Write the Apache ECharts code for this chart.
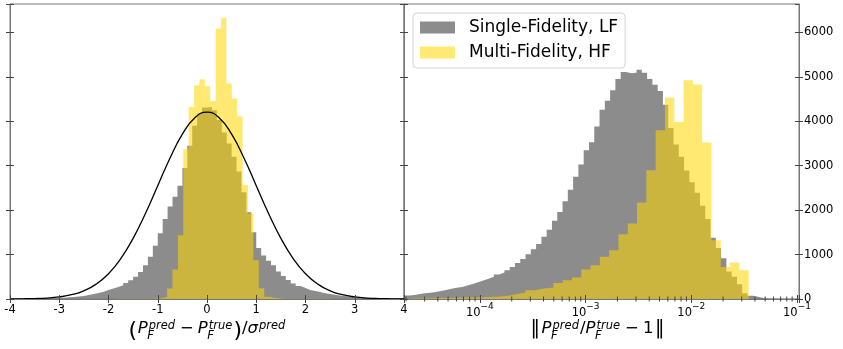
<!DOCTYPE html>
<html>
<head>
<meta charset="utf-8">
<script src="https://cdn.jsdelivr.net/npm/echarts@6/dist/echarts.min.js"></script>
<style>
  html, body { margin: 0; padding: 0; background: #fff; }
  #chart { width: 843px; height: 349px; }
</style>
</head>
<body>
<div id="chart"></div>
<script>
// ---- left panel: (P_pred - P_true) / sigma, histogram counts ----
const leftGrayStart = -4, leftGrayWidth = 0.1;
const leftGray = [
  5, 6, 7, 8, 10, 13, 16, 18, 21, 25,
  30, 37, 45, 55, 70, 88, 110, 135, 165, 200,
  235, 270, 310, 360, 420, 500, 610, 760, 950, 1200,
  1480, 1800, 2080, 2300, 2550, 2950, 3450, 3900, 4180, 4310,
  4320, 4250, 4030, 3750, 3500, 3200, 2870, 2400, 1950, 1500,
  1150, 980, 860, 760, 620, 520, 430, 350, 290, 245,
  205, 180, 155, 130, 115, 95, 80, 65, 52, 42,
  34, 28, 24, 20, 18, 16, 14, 12, 10, 9
];
const leftYellowStart = -1.905, leftYellowWidth = 0.1095;
const leftYellow = [
  3, 3, 4, 4, 5, 6, 8, 12,
  15, 45, 234, 662, 1435, 3371, 4324, 4813, 4948, 4790, 4459, 6090, 6329,
  4851, 4514, 4115, 2560, 1923, 872, 240, 50, 20,
  10, 8, 6, 5, 5, 4, 4, 3, 3, 3, 2, 2, 2
];
// unit normal curve drawn over the left panel
const normX = [-4, -3.75, -3.5, -3.25, -3, -2.75, -2.5, -2.25, -2, -1.75, -1.5, -1.25, -1, -0.75, -0.5, -0.25, 0,
  0.25, 0.5, 0.75, 1, 1.25, 1.5, 1.75, 2, 2.25, 2.5, 2.75, 3, 3.25, 3.5, 3.75, 4];
const normY = [1, 4, 9, 21, 47, 96, 185, 335, 569, 910, 1365, 1925, 2550, 3174, 3711, 4075, 4205,
  4075, 3711, 3174, 2550, 1925, 1365, 910, 569, 335, 185, 96, 47, 21, 9, 4, 1];

// ---- right panel: |P_pred/P_true - 1|, bins in log10 (decades) ----
const rightGrayStart = -4.718, rightGrayWidth = 0.05;
const rightGray = [
  80, 92, 115, 128, 141, 155, 178, 205, 232, 252,
  272, 305, 338, 378, 415, 458, 500, 550, 595, 645,
  720, 810, 900, 1005, 1120, 1240, 1400, 1560, 1760, 1960,
  2200, 2460, 2750, 3030, 3350, 3530, 3880, 4260, 4460, 4700,
  4950, 5110, 5080, 5090, 5160, 5090, 4950, 4820, 4680, 4370,
  3850, 3480, 3200, 2890, 2630, 2390, 2100, 1800, 1380, 1150,
  920, 620, 500, 330, 130, 75, 50, 22, 14, 9,
  7, 6, 5, 4, 3
];
const rightYellowStart = -4.713, rightYellowWidth = 0.088;
const rightYellow = [
  12, 15, 18, 22, 25, 28, 32, 36, 40, 50,
  68, 106, 144, 196, 234, 257, 360, 421, 482, 662,
  759, 950, 1097, 1457, 1698, 2171, 2899, 3800, 4536, 3986,
  4926, 4829, 3522, 1322, 720, 820, 646, 5
];
const xLogMin = -4.718, xLogMax = -0.981;
const yMax = 6640;
const seriesNames = ['Single-Fidelity, LF', 'Multi-Fidelity, HF'];

const FONT = 'DejaVu Sans';
const grayColor = 'rgba(128,128,128,0.9)';
const yellowColor = 'rgba(255,215,0,0.55)';

// histogram outline as step points: bin i spans [start + i*w, start + (i+1)*w]
function stepPoints(start, width, counts, toX) {
  const pts = [[toX(start), 0]];
  counts.forEach((c, i) => pts.push([toX(start + i * width), c]));
  const end = toX(start + counts.length * width);
  pts.push([end, counts[counts.length - 1]]);
  pts.push([end, 0]);
  return pts;
}
const lin = e => e;
const pow10 = e => Math.pow(10, e);

function histSeries(name, color, pts, xi, yi) {
  return {
    name, type: 'line', xAxisIndex: xi, yAxisIndex: yi, step: 'end',
    data: pts, symbol: 'none', silent: true, color,
    lineStyle: { width: 0 }, areaStyle: { color, opacity: 1 }
  };
}

// minor ticks of the log axis (2..9 x 10^n)
const minorTicks = [];
for (let n = -5; n <= -1; n++) {
  for (let k = 2; k <= 9; k++) {
    const v = k * Math.pow(10, n);
    if (Math.log10(v) > xLogMin && Math.log10(v) < xLogMax) minorTicks.push([v, 0]);
  }
}

// ---- math-style axis titles built from text pieces ----
const mctx = document.createElement('canvas').getContext('2d');
function fontStr(size, it) { return (it ? 'italic ' : '') + size + 'px "' + FONT + '"'; }
function textW(t, size, it) { mctx.font = fontStr(size, it); return mctx.measureText(t).width; }
function mathName(tokens, cx, base) {
  const M = 16.5, S = 11.5;
  const items = [];
  let x = 0;
  tokens.forEach(tk => {
    if (tk.sup !== undefined || tk.sub !== undefined) {
      const x0 = x + 1;
      let w = 0;
      if (tk.sup) { items.push({ t: tk.sup, size: S, it: true, x: x0, dy: -4.5 }); w = Math.max(w, textW(tk.sup, S, true)); }
      if (tk.sub) { items.push({ t: tk.sub, size: S, it: true, x: x0 - 1.5, dy: 5.5 }); w = Math.max(w, textW(tk.sub, S, true) - 1.5); }
      x = x0 + w + 1;
    } else {
      const size = tk.size || M;
      items.push({ t: tk.t, size, it: !!tk.it, x: x + (tk.pre || 0), dy: tk.dy || 0 });
      x += (tk.pre || 0) + textW(tk.t, size, !!tk.it) + (tk.post || 0);
    }
  });
  const left = cx - x / 2;
  return items.map(p => ({
    type: 'text', silent: true, x: left + p.x, y: base + p.dy - 0.346 * p.size,
    style: { text: p.t, font: fontStr(p.size, p.it), fill: '#000', textAlign: 'left', textVerticalAlign: 'middle' }
  }));
}

const leftTitle = mathName([
  { t: '(', size: 22, dy: 4.5, post: 0.5 }, { t: 'P', it: true }, { sup: 'pred', sub: 'F' },
  { t: '\u2212', pre: 4, post: 4 }, { t: 'P', it: true }, { sup: 'true', sub: 'F' },
  { t: ')', size: 22, dy: 4.5 }, { t: '/' }, { t: '\u03c3', it: true }, { sup: 'pred' }
], 207.5, 334);
const rightTitle = mathName([
  { t: '\u2016', size: 19, dy: 2, post: 1.5 }, { t: 'P', it: true }, { sup: 'pred', sub: 'F' },
  { t: '/' }, { t: 'P', it: true }, { sup: 'true', sub: 'F' },
  { t: '\u2212', pre: 4, post: 4 }, { t: '1', post: 1.5 }, { t: '\u2016', size: 19, dy: 2 }
], 597.5, 334);

// ---- axes ----
const spine = { color: '#777', width: 1 };
const tickSt = { color: '#444', width: 1 };
const lab = { fontFamily: FONT, fontSize: 11.5, color: '#000' };
function xAx(grid, extra, inside) {
  return Object.assign({
    gridIndex: grid, position: 'bottom', z: 5,
    axisLine: { show: !inside, onZero: false, lineStyle: spine },
    axisTick: { show: true, inside: !!inside, length: 4, lineStyle: tickSt },
    axisLabel: { show: false }, splitLine: { show: false }, minorTick: { show: false }
  }, extra);
}
function yAx(grid, pos, inside, labels) {
  return {
    gridIndex: grid, position: pos, type: 'value', min: 0, max: yMax, interval: 1000, z: 5,
    axisLine: { show: !inside, onZero: false, lineStyle: spine },
    axisTick: { show: true, inside: !!inside, length: 4, lineStyle: tickSt },
    axisLabel: labels ? Object.assign({ show: true, margin: 5, showMaxLabel: false,
      formatter: v => (v % 1000 === 0 ? String(v) : '') }, lab) : { show: false },
    splitLine: { show: false }
  };
}
const linX = { type: 'value', min: -4, max: 4, interval: 1 };
const logX = { type: 'log', logBase: 10, min: Math.pow(10, xLogMin), max: Math.pow(10, xLogMax) };
const logLabel = Object.assign({
  show: true, margin: 3,
  formatter: v => {
    const e = Math.log10(v);
    if (Math.abs(e - Math.round(e)) > 1e-6) return '';
    return '{b|10}{s|\u2212' + Math.abs(Math.round(e)) + '}';
  },
  rich: {
    b: { fontFamily: FONT, fontSize: 11.5, lineHeight: 17, verticalAlign: 'bottom', color: '#000' },
    s: { fontFamily: FONT, fontSize: 9, lineHeight: 10, verticalAlign: 'top', color: '#000' }
  }
}, lab);

const chart = echarts.init(document.getElementById('chart'), null, { renderer: 'canvas' });
chart.setOption({
  animation: false,
  backgroundColor: '#fff',
  grid: [
    { left: 10, top: 4, width: 394, height: 295, show: true, borderColor: '#777', borderWidth: 1, backgroundColor: 'transparent' },
    { left: 404, top: 4, width: 395, height: 295, show: true, borderColor: '#777', borderWidth: 1, backgroundColor: 'transparent' }
  ],
  xAxis: [
    xAx(0, Object.assign({}, linX, { axisLabel: Object.assign({ show: true, margin: 5 }, lab) })),
    xAx(0, linX, true),
    xAx(1, Object.assign({}, logX, { axisLabel: logLabel })),
    xAx(1, logX, true)
  ],
  yAxis: [
    yAx(0, 'left', false, false),
    yAx(0, 'left', true, false),
    yAx(1, 'right', false, true),
    yAx(1, 'right', true, false),
    yAx(1, 'left', false, false),
    yAx(1, 'left', true, false)
  ],
  legend: {
    left: 413, top: 13, orient: 'vertical', itemWidth: 35, itemHeight: 12, itemGap: 8,
    padding: [6, 7, 7, 7], backgroundColor: '#fff', borderColor: '#d4d4d4', borderWidth: 1, borderRadius: 4,
    textStyle: { fontFamily: FONT, fontSize: 17, color: '#000', padding: [0, 0, 0, 9] },
    data: [
      { name: seriesNames[0], icon: 'rect', itemStyle: { color: grayColor } },
      { name: seriesNames[1], icon: 'rect', itemStyle: { color: yellowColor } }
    ]
  },
  graphic: leftTitle.concat(rightTitle),
  series: [
    histSeries(seriesNames[0], grayColor, stepPoints(leftGrayStart, leftGrayWidth, leftGray, lin), 0, 0),
    histSeries(seriesNames[1], yellowColor, stepPoints(leftYellowStart, leftYellowWidth, leftYellow, lin), 0, 0),
    {
      name: 'normal', type: 'line', xAxisIndex: 0, yAxisIndex: 0, smooth: true, symbol: 'none', silent: true,
      data: normX.map((x, i) => [x, normY[i]]), lineStyle: { color: '#000', width: 1.3 }, z: 4
    },
    histSeries(seriesNames[0], grayColor, stepPoints(rightGrayStart, rightGrayWidth, rightGray, pow10), 2, 2),
    histSeries(seriesNames[1], yellowColor, stepPoints(rightYellowStart, rightYellowWidth, rightYellow, pow10), 2, 2),
    {
      name: 'minor', type: 'custom', xAxisIndex: 2, yAxisIndex: 2, silent: true, clip: false, z: 6,
      data: minorTicks, encode: { x: 0, y: 1 },
      renderItem: (params, api) => {
        const p = api.coord([api.value(0), 0]);
        return { type: 'line', shape: { x1: p[0], y1: p[1] - 2.5, x2: p[0], y2: p[1] + 2.5 }, style: { stroke: '#444', lineWidth: 1 } };
      }
    }
  ]
});
</script>
</body>
</html>
